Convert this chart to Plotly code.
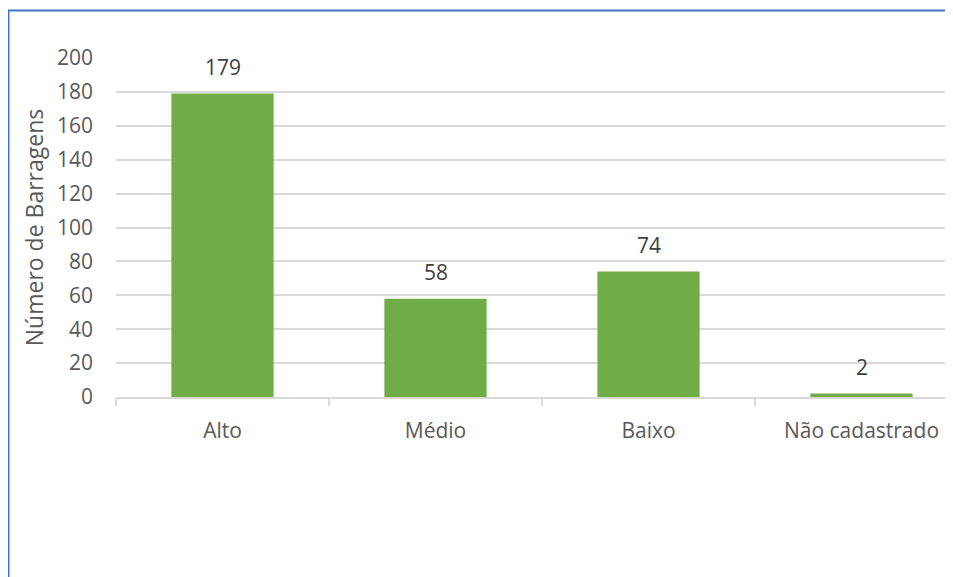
import plotly.graph_objects as go

categories = ["Alto", "Médio", "Baixo", "Não cadastrado"]
values = [179, 58, 74, 2]
y_ticks = [0, 20, 40, 60, 80, 100, 120, 140, 160, 180, 200]

# page body adds an 8px offset; figure is sized to the remaining window
W, H = 945, 569
L, T, B = 108, 50, 180
plot_w = W - L
plot_h = H - T - B
cat_w = 213.0
x_hi = -0.5 + plot_w / cat_w

fig = go.Figure()
fig.add_trace(go.Bar(
    x=categories, y=values, width=0.48,
    marker=dict(color="#70AD47", line=dict(width=0)),
    hoverinfo="x+y",
))

for c, v in zip(categories, values):
    fig.add_annotation(x=c, y=v, text=str(v), showarrow=False,
                       yanchor="middle", yshift=27,
                       font=dict(size=21, color="#404040"))

def px_to_paper_x(px):
    return (px - L) / plot_w

def px_to_paper_y(py):
    return (H - B - py) / plot_h

frame = dict(color="#4472C4", width=2)
fig.add_shape(type="line", xref="paper", yref="paper",
              x0=px_to_paper_x(0), x1=px_to_paper_x(W + 5),
              y0=px_to_paper_y(2.5), y1=px_to_paper_y(2.5), line=frame)
fig.add_shape(type="line", xref="paper", yref="paper",
              x0=px_to_paper_x(0.5), x1=px_to_paper_x(0.5),
              y0=px_to_paper_y(2.5), y1=px_to_paper_y(H + 5), line=frame)

fig.update_layout(
    width=W, height=H,
    margin=dict(l=L, r=0, t=T, b=B, pad=0),
    paper_bgcolor="white", plot_bgcolor="white",
    font=dict(family="Open Sans, Noto Sans, sans-serif", size=21, color="#595959"),
    showlegend=False,
    bargap=0.52,
)
fig.update_xaxes(
    range=[-0.5, x_hi], type="category",
    showline=True, linecolor="#D9D9D9", linewidth=2,
    ticks="outside", tickson="boundaries", ticklen=7, tickcolor="#D9D9D9", tickwidth=2,
    ticklabelstandoff=14,
    showgrid=False, zeroline=False,
    tickfont=dict(size=21, color="#595959"),
)
fig.update_yaxes(
    range=[0, 200], tickvals=y_ticks,
    showgrid=True, gridcolor="#D9D9D9", gridwidth=2,
    zeroline=False, showline=False,
    ticklabelstandoff=22,
    tickfont=dict(size=21, color="#595959"),
    title=dict(text="Número de Barragens", font=dict(size=23, color="#595959"), standoff=6),
)

fig.write_html("out.html")
